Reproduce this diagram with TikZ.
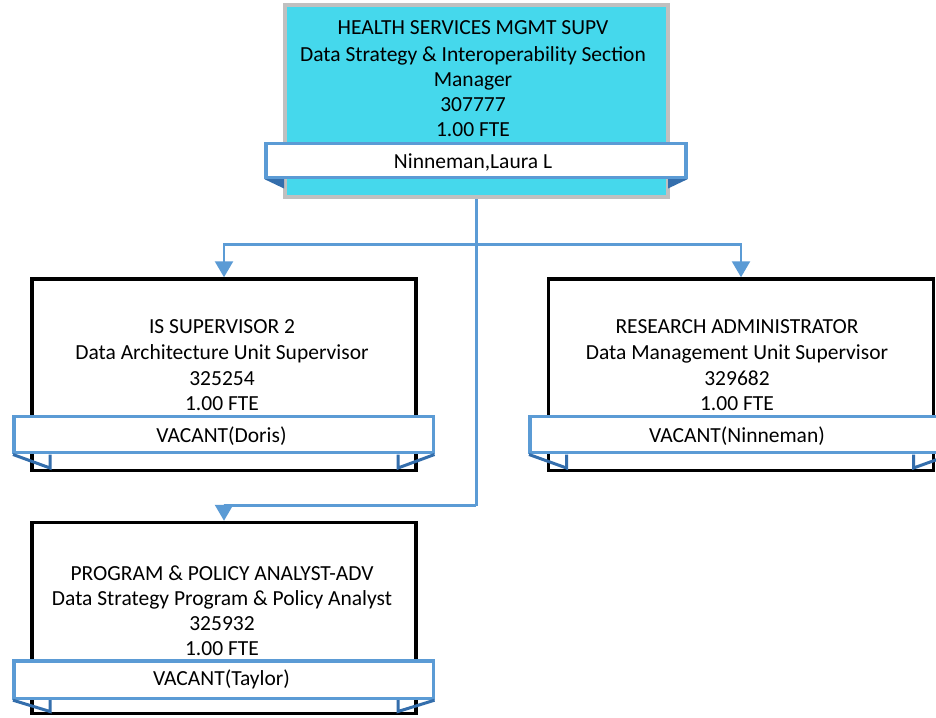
\documentclass[tikz,border=0pt]{standalone}
\usepackage{fontspec}
\setmainfont{Carlito}
\usetikzlibrary{arrows.meta}
\definecolor{cyanfill}{RGB}{69,216,236}
\definecolor{boxgray}{RGB}{192,192,192}
\definecolor{stripblue}{RGB}{91,155,213}
\definecolor{foldblue}{RGB}{52,110,172}
\tikzset{
  box/.style={rectangle, draw=black, line width=3.5pt, fill=white, inner sep=0pt},
  topbox/.style={box, draw=boxgray, line width=4pt, fill=cyanfill},
  strip/.style={rectangle, draw=stripblue, line width=3.5pt, fill=white, inner sep=0pt},
  ln/.style={anchor=base, inner sep=0pt, font=\fontsize{21.5}{25}\selectfont},
  conn/.style={draw=stripblue, line width=2.5pt},
  arr/.style={-{Triangle[width=18pt,length=16pt]}},
  fold/.style={draw=foldblue, line width=3pt},
}
\begin{document}
\begin{tikzpicture}[x=1pt,y=-1pt]
\useasboundingbox (0,0) rectangle (936,717);
\clip (0,0) rectangle (936,717);
\fill[white] (0,0) rectangle (936,717);

% boxes
\node[topbox, minimum width=383.5pt, minimum height=191.7pt] (top) at (476.25,101.15) {};
\node[box, minimum width=384pt, minimum height=191.5pt] (b1) at (224,374.75) {};
\node[box, minimum width=385pt, minimum height=191.5pt] (b2) at (741,374.75) {};
\node[box, minimum width=384pt, minimum height=190.8pt] (b3) at (224,617.9) {};

% connectors
\coordinate (high) at (0,244.3);
\coordinate (low) at (0,505.7);
\draw[conn] (top.south) -- (top.south |- low);
\draw[conn,arr] (top.south |- high) -| (b1.north);
\draw[conn,arr] (top.south |- high) -| (b2.north);
\draw[conn,arr] (top.south |- low) -| (b3.north);

% top box texts
\node[ln] (t1) at (473,35) {HEALTH SERVICES MGMT SUPV};
\node[ln] (t2) at (473,61) {Data Strategy \& Interoperability Section};
\node[ln] (t3) at (473,86) {Manager};
\node[ln] (t4) at (473,111) {307777};
\node[ln] (t5) at (473,136.7) {1.00 FTE};

% box 1 texts
\node[ln] (a1) at (222,333.3) {IS SUPERVISOR 2};
\node[ln] (a2) at (222,359.5) {Data Architecture Unit Supervisor};
\node[ln] (a3) at (222,385) {325254};
\node[ln] (a4) at (222,410) {1.00 FTE};

% box 2 texts
\node[ln] (c1) at (737,333.3) {RESEARCH ADMINISTRATOR};
\node[ln] (c2) at (737,359.5) {Data Management Unit Supervisor};
\node[ln] (c3) at (737,385) {329682};
\node[ln] (c4) at (737,410) {1.00 FTE};

% box 3 texts
\node[ln] (d1) at (222,580) {PROGRAM \& POLICY ANALYST-ADV};
\node[ln] (d2) at (222,605.5) {Data Strategy Program \& Policy Analyst};
\node[ln] (d3) at (222,630.5) {325932};
\node[ln] (d4) at (222,655.7) {1.00 FTE};

% name strips
\node[strip, minimum width=420pt, minimum height=34pt] (s0) at (476,160.5) {};
\node[ln] (n0) at (473,168) {Ninneman,Laura L};
\fill[foldblue] (264.5,179.2) -- (284,179.2) -- (284,188.5) -- cycle;
\fill[foldblue] (687.5,179.2) -- (668,179.2) -- (668,188.5) -- cycle;

\node[strip, minimum width=419.3pt, minimum height=35.9pt] (s1) at (223.65,434.65) {};
\node[ln] (n1) at (221.5,442.7) {VACANT(Doris)};
\draw[fold] (13,454.5) -- (50,468) -- (50,454.5);
\draw[fold] (434.5,454.5) -- (398,468) -- (398,454.5);

\node[strip, minimum width=419.3pt, minimum height=35.9pt] (s2) at (739.65,434.65) {};
\node[ln] (n2) at (737,442.7) {VACANT(Ninneman)};
\draw[fold] (529,454.5) -- (566.5,468) -- (566.5,454.5);
\draw[fold] (951,454.5) -- (913.5,468) -- (913.5,454.5);

\node[strip, minimum width=419.3pt, minimum height=37.3pt] (s3) at (223.65,679.65) {};
\node[ln] (n3) at (221.5,685.7) {VACANT(Taylor)};
\draw[fold] (13,700.2) -- (50,711.5) -- (50,700.2);
\draw[fold] (434.5,700.2) -- (398,711.5) -- (398,700.2);
\end{tikzpicture}
\end{document}
